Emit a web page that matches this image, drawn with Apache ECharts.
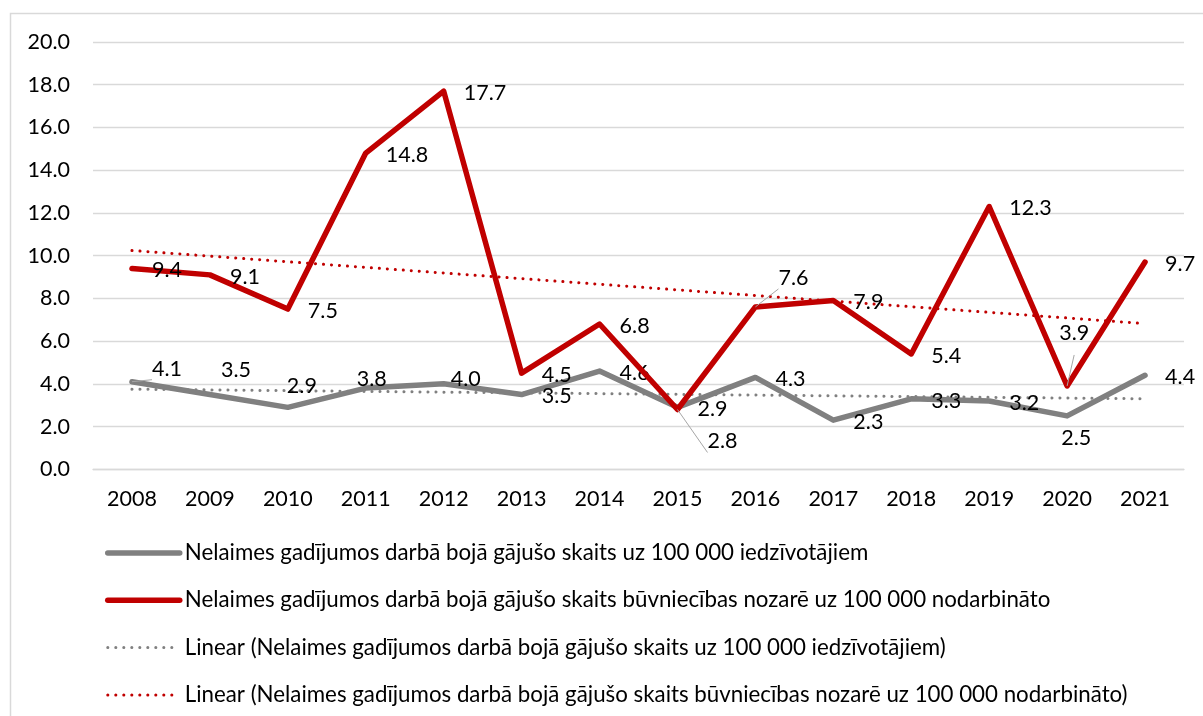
<!DOCTYPE html>
<html>
<head>
<meta charset="utf-8">
<script src="https://cdn.jsdelivr.net/npm/echarts@6/dist/echarts.min.js"></script>
<style>
html,body{margin:0;padding:0;background:#fff;}
#c{width:1203px;height:716px;}
</style>
</head>
<body>
<div id="c"></div>
<script>
const years = ['2008','2009','2010','2011','2012','2013','2014','2015','2016','2017','2018','2019','2020','2021'];
const residentsRate = [4.1, 3.5, 2.9, 3.8, 4.0, 3.5, 4.6, 2.9, 4.3, 2.3, 3.3, 3.2, 2.5, 4.4];
const constructionRate = [9.4, 9.1, 7.5, 14.8, 17.7, 4.5, 6.8, 2.8, 7.6, 7.9, 5.4, 12.3, 3.9, 9.7];
// trendline end points
const residentsTrend = [['2008', 3.75], ['2021', 3.30]];
const constructionTrend = [['2008', 10.24], ['2021', 6.82]];
const yTicks = [0, 20, 2];

const names = [
  'Nelaimes gadījumos darbā bojā gājušo skaits uz 100 000 iedzīvotājiem',
  'Nelaimes gadījumos darbā bojā gājušo skaits būvniecības nozarē uz 100 000 nodarbināto',
  'Linear (Nelaimes gadījumos darbā bojā gājušo skaits uz 100 000 iedzīvotājiem)',
  'Linear (Nelaimes gadījumos darbā bojā gājušo skaits būvniecības nozarē uz 100 000 nodarbināto)'
];

// label offset overrides (style only), keyed by index
const greyLabelAdj = {0:[0,-15,true],1:[-9,-26],2:[-21,-23],3:[-29,-11],4:[-13,-7],12:[-26,20]};
const redLabelAdj = {7:[10,30,true],8:[3,-31,true],12:[-28,-55,true]};

const FONT = 'Lato';
const FS = 21.5;
const LFS = 22.3;
const GREY = '#808080';
const RED = '#c00000';

function buildData(vals, adj) {
  return vals.map((v, i) => {
    const a = adj[i];
    if (!a) return v;
    const item = { value: v, label: { offset: [a[0], 2 + a[1]] } };
    if (a[2]) item.labelLine = { show: true, lineStyle: { color: '#a6a6a6', width: 1 } };
    return item;
  });
}

const labelBase = {
  show: true, position: 'right', distance: 20, offset: [0, 2],
  fontFamily: FONT, fontSize: FS, color: '#000',
  formatter: p => Number(p.value).toFixed(1)
};

const solidLegend = c => ({ color: c, width: 5.5, cap: 'round', type: 'solid' });
const dotLegend = c => ({ color: c, width: 3, cap: 'round', type: [0.1, 7.9] });

const chart = echarts.init(document.getElementById('c'), null, { renderer: 'canvas' });
chart.setOption({
  animation: false,
  backgroundColor: '#fff',
  textStyle: { fontFamily: FONT },
  graphic: [{
    type: 'rect', shape: { x: 10.5, y: 13.5, width: 1200, height: 720 },
    style: { fill: 'none', stroke: '#d9d9d9', lineWidth: 1.5 }, silent: true, z: -1
  }],
  grid: { left: 93, right: 19, top: 42, bottom: 246.7, outerBoundsMode: 'none' },
  xAxis: {
    type: 'category', data: years, boundaryGap: true,
    axisTick: { show: false },
    axisLine: { lineStyle: { color: '#d9d9d9', width: 1.3 } },
    axisLabel: { fontFamily: FONT, fontSize: FS, color: '#000', margin: 19 }
  },
  yAxis: {
    type: 'value', min: yTicks[0], max: yTicks[1], interval: yTicks[2],
    axisLine: { show: false }, axisTick: { show: false },
    splitLine: { lineStyle: { color: '#d9d9d9', width: 1.3 } },
    axisLabel: { fontFamily: FONT, fontSize: FS, color: '#000', margin: 23, formatter: v => v.toFixed(1) }
  },
  legend: {
    orient: 'vertical', left: 105, top: 542, padding: 0,
    itemWidth: 72, itemHeight: 20, itemGap: 25.3,
    itemStyle: { opacity: 0 },
    textStyle: { fontFamily: FONT, fontSize: LFS, color: '#000' },
    data: [
      { name: names[0], lineStyle: solidLegend(GREY) },
      { name: names[1], lineStyle: solidLegend(RED) },
      { name: names[2], lineStyle: dotLegend(GREY) },
      { name: names[3], lineStyle: dotLegend(RED) }
    ]
  },
  series: [
    {
      name: names[0], type: 'line', data: buildData(residentsRate, greyLabelAdj),
      symbol: 'circle', symbolSize: 0.1, z: 3,
      lineStyle: { color: GREY, width: 5.5, cap: 'round', join: 'round' },
      itemStyle: { color: GREY },
      label: labelBase
    },
    {
      name: names[1], type: 'line', data: buildData(constructionRate, redLabelAdj),
      symbol: 'circle', symbolSize: 0.1, z: 4,
      lineStyle: { color: RED, width: 5.5, cap: 'round', join: 'round' },
      itemStyle: { color: RED },
      label: labelBase
    },
    {
      name: names[2], type: 'line', data: residentsTrend,
      symbol: 'none', z: 2,
      lineStyle: { color: GREY, width: 3, type: [0.1, 7.9], cap: 'round' },
      itemStyle: { color: GREY }
    },
    {
      name: names[3], type: 'line', data: constructionTrend,
      symbol: 'none', z: 2,
      lineStyle: { color: RED, width: 3, type: [0.1, 7.9], cap: 'round' },
      itemStyle: { color: RED }
    }
  ]
});
</script>
</body>
</html>
